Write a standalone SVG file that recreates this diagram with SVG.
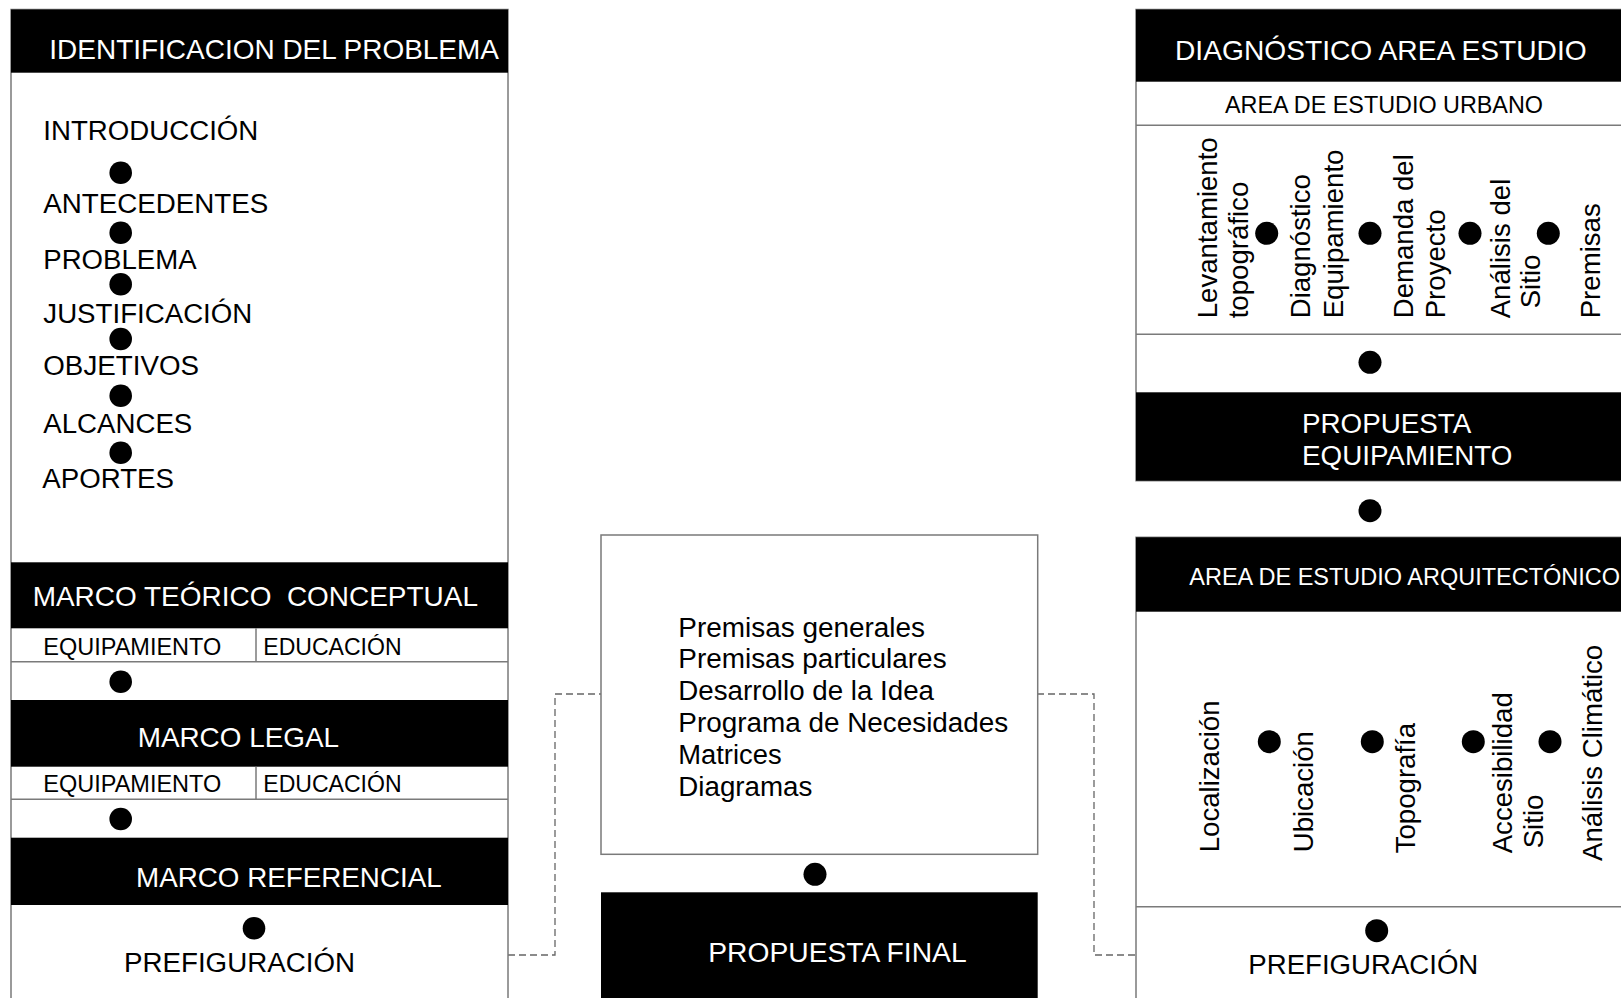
<svg xmlns="http://www.w3.org/2000/svg" width="1621" height="998" viewBox="0 0 1621 998">
<style>
.box{fill:#fff;stroke:#7a7a7a;stroke-width:1.5}
.bar{fill:#000}
.ln{stroke:#7a7a7a;stroke-width:1.5;fill:none}
.t{font-family:"Liberation Sans",Arial,sans-serif;fill:#000}
.w{fill:#fff}
.dot{fill:#000}
.dash{fill:none;stroke:#666;stroke-width:1.3;stroke-dasharray:7 4}
.f27{font-size:27px}
.fv{font-size:27.6px}
.f28{font-size:28px}
.f23{font-size:23px}
</style>
<rect width="1621" height="998" fill="#fff"/>

<g id="connectors">
  <path class="dash" d="M508,955 H555 V694 H601"/>
  <path class="dash" d="M1037,694 H1094 V955 H1136"/>
</g>

<g id="identificacion-problema">
  <rect class="box" x="11" y="9.5" width="497" height="1000"/>
  <rect class="bar" x="11" y="9.5" width="497" height="63.2"/>
  <text class="t w f28" x="49.3" y="59" textLength="449.7" lengthAdjust="spacingAndGlyphs">IDENTIFICACION DEL PROBLEMA</text>
  <text class="t f27" x="43.3" y="140" textLength="215" lengthAdjust="spacingAndGlyphs">INTRODUCCIÓN</text>
  <circle class="dot" cx="120.7" cy="172.7" r="11.3"/>
  <text class="t f27" x="43.3" y="213.3" textLength="225" lengthAdjust="spacingAndGlyphs">ANTECEDENTES</text>
  <circle class="dot" cx="120.7" cy="232.7" r="11.3"/>
  <text class="t f27" x="43.3" y="269.3" textLength="153.3" lengthAdjust="spacingAndGlyphs">PROBLEMA</text>
  <circle class="dot" cx="120.7" cy="284.3" r="11.3"/>
  <text class="t f27" x="43.3" y="322.7" textLength="209" lengthAdjust="spacingAndGlyphs">JUSTIFICACIÓN</text>
  <circle class="dot" cx="120.7" cy="339" r="11.3"/>
  <text class="t f27" x="43.3" y="375" textLength="155.7" lengthAdjust="spacingAndGlyphs">OBJETIVOS</text>
  <circle class="dot" cx="120.7" cy="395.7" r="11.3"/>
  <text class="t f27" x="43.3" y="433.3" textLength="149" lengthAdjust="spacingAndGlyphs">ALCANCES</text>
  <circle class="dot" cx="120.7" cy="452.7" r="11.3"/>
  <text class="t f27" x="42.3" y="488.3" textLength="131.7" lengthAdjust="spacingAndGlyphs">APORTES</text>
</g>

<g id="marco-teorico">
  <rect class="bar" x="11" y="562.3" width="497" height="66"/>
  <text class="t w f28" x="32.7" y="606" textLength="445.3" lengthAdjust="spacingAndGlyphs" xml:space="preserve">MARCO TEÓRICO  CONCEPTUAL</text>
  <line class="ln" x1="11" y1="661.7" x2="508" y2="661.7"/>
  <line class="ln" x1="256" y1="628.3" x2="256" y2="661.7"/>
  <text class="t f23" x="43.3" y="655" textLength="178" lengthAdjust="spacingAndGlyphs">EQUIPAMIENTO</text>
  <text class="t f23" x="263.3" y="655" textLength="138.3" lengthAdjust="spacingAndGlyphs">EDUCACIÓN</text>
  <circle class="dot" cx="120.7" cy="681.7" r="11.3"/>
</g>

<g id="marco-legal">
  <rect class="bar" x="11" y="700" width="497" height="66.7"/>
  <text class="t w f28" x="137.7" y="746.7" textLength="201.3" lengthAdjust="spacingAndGlyphs">MARCO LEGAL</text>
  <line class="ln" x1="11" y1="799.3" x2="508" y2="799.3"/>
  <line class="ln" x1="256" y1="766.7" x2="256" y2="799.3"/>
  <text class="t f23" x="43.3" y="792.3" textLength="178" lengthAdjust="spacingAndGlyphs">EQUIPAMIENTO</text>
  <text class="t f23" x="263.3" y="792.3" textLength="138.3" lengthAdjust="spacingAndGlyphs">EDUCACIÓN</text>
  <circle class="dot" cx="120.7" cy="819" r="11.3"/>
</g>

<g id="marco-referencial">
  <rect class="bar" x="11" y="837.7" width="497" height="67.3"/>
  <text class="t w f28" x="136" y="887.3" textLength="305.7" lengthAdjust="spacingAndGlyphs">MARCO REFERENCIAL</text>
  <circle class="dot" cx="254" cy="928.3" r="11.3"/>
  <text class="t f27" x="124" y="972.3" textLength="231" lengthAdjust="spacingAndGlyphs">PREFIGURACIÓN</text>
</g>

<g id="premisas">
  <rect class="box" x="601" y="535" width="436.7" height="319.3"/>
  <text class="t f27" x="678.3" y="636.7" textLength="246.7" lengthAdjust="spacingAndGlyphs">Premisas generales</text>
  <text class="t f27" x="678.3" y="667.7" textLength="268.3" lengthAdjust="spacingAndGlyphs">Premisas particulares</text>
  <text class="t f27" x="678.3" y="700" textLength="255.7" lengthAdjust="spacingAndGlyphs">Desarrollo de la Idea</text>
  <text class="t f27" x="678.3" y="732.3" textLength="330" lengthAdjust="spacingAndGlyphs">Programa de Necesidades</text>
  <text class="t f27" x="678.3" y="764.3" textLength="103.3" lengthAdjust="spacingAndGlyphs">Matrices</text>
  <text class="t f27" x="678.3" y="796" textLength="134" lengthAdjust="spacingAndGlyphs">Diagramas</text>
  <circle class="dot" cx="815" cy="874.3" r="11.5"/>
</g>

<g id="propuesta-final">
  <rect class="bar" x="601" y="892.3" width="436.7" height="110"/>
  <text class="t w f27" x="708.3" y="961.7" textLength="258.3" lengthAdjust="spacingAndGlyphs">PROPUESTA FINAL</text>
</g>

<g id="diagnostico-area-estudio">
  <rect class="box" x="1136" y="9.5" width="500" height="471.2"/>
  <rect class="bar" x="1136" y="9.5" width="500" height="72.2"/>
  <text class="t w f28" x="1175" y="60" textLength="411.7" lengthAdjust="spacingAndGlyphs">DIAGNÓSTICO AREA ESTUDIO</text>
  <text class="t f23" x="1225" y="113" textLength="318" lengthAdjust="spacingAndGlyphs" fill="#222">AREA DE ESTUDIO URBANO</text>
  <line class="ln" x1="1136" y1="125.3" x2="1621" y2="125.3"/>
  <text class="t fv" transform="translate(1216.7,318.3) rotate(-90)">Levantamiento</text>
  <text class="t fv" transform="translate(1248,318.3) rotate(-90)">topográfico</text>
  <circle class="dot" cx="1266.7" cy="233.3" r="11.5"/>
  <text class="t fv" transform="translate(1310,318.3) rotate(-90)">Diagnóstico</text>
  <text class="t fv" transform="translate(1342.7,318.3) rotate(-90)">Equipamiento</text>
  <circle class="dot" cx="1370" cy="233.3" r="11.5"/>
  <text class="t fv" transform="translate(1413.3,318.3) rotate(-90)">Demanda del</text>
  <text class="t fv" transform="translate(1445,318.3) rotate(-90)">Proyecto</text>
  <circle class="dot" cx="1470" cy="233.3" r="11.5"/>
  <text class="t fv" transform="translate(1510,318.3) rotate(-90)">Análisis del</text>
  <text class="t fv" transform="translate(1540,308.3) rotate(-90)">Sitio</text>
  <circle class="dot" cx="1548.3" cy="233.3" r="11.5"/>
  <text class="t fv" transform="translate(1600,318.3) rotate(-90)">Premisas</text>
  <line class="ln" x1="1136" y1="334.3" x2="1621" y2="334.3"/>
  <circle class="dot" cx="1370" cy="362.3" r="11.5"/>
</g>

<g id="propuesta-equipamiento">
  <rect class="bar" x="1136" y="392.3" width="500" height="88.4"/>
  <text class="t w f27" x="1302" y="433.3" textLength="169.3" lengthAdjust="spacingAndGlyphs">PROPUESTA</text>
  <text class="t w f27" x="1302" y="465" textLength="210.4" lengthAdjust="spacingAndGlyphs">EQUIPAMIENTO</text>
  <circle class="dot" cx="1370" cy="510.7" r="11.5"/>
</g>

<g id="area-estudio-arquitectonico">
  <rect class="box" x="1136" y="537.3" width="500" height="480"/>
  <rect class="bar" x="1136" y="537.3" width="500" height="74.4"/>
  <text class="t w f23" x="1189.3" y="585" textLength="430.7" lengthAdjust="spacingAndGlyphs">AREA DE ESTUDIO ARQUITECTÓNICO</text>
  <text class="t fv" transform="translate(1219.3,852.3) rotate(-90)">Localización</text>
  <circle class="dot" cx="1269.3" cy="741.7" r="11.5"/>
  <text class="t fv" transform="translate(1313.3,852.3) rotate(-90)">Ubicación</text>
  <circle class="dot" cx="1372.3" cy="741.7" r="11.5"/>
  <text class="t fv" transform="translate(1415,853.3) rotate(-90)">Topografía</text>
  <circle class="dot" cx="1473.3" cy="741.7" r="11.5"/>
  <text class="t fv" transform="translate(1511.7,853.3) rotate(-90)">Accesibilidad</text>
  <text class="t fv" transform="translate(1543.3,848.3) rotate(-90)">Sitio</text>
  <circle class="dot" cx="1550" cy="741.7" r="11.5"/>
  <text class="t fv" transform="translate(1601.7,861) rotate(-90)">Análisis Climático</text>
  <line class="ln" x1="1136" y1="906.7" x2="1621" y2="906.7"/>
  <circle class="dot" cx="1376.7" cy="930.7" r="11.5"/>
  <text class="t f27" x="1248.3" y="974" textLength="230" lengthAdjust="spacingAndGlyphs">PREFIGURACIÓN</text>
</g>
</svg>
